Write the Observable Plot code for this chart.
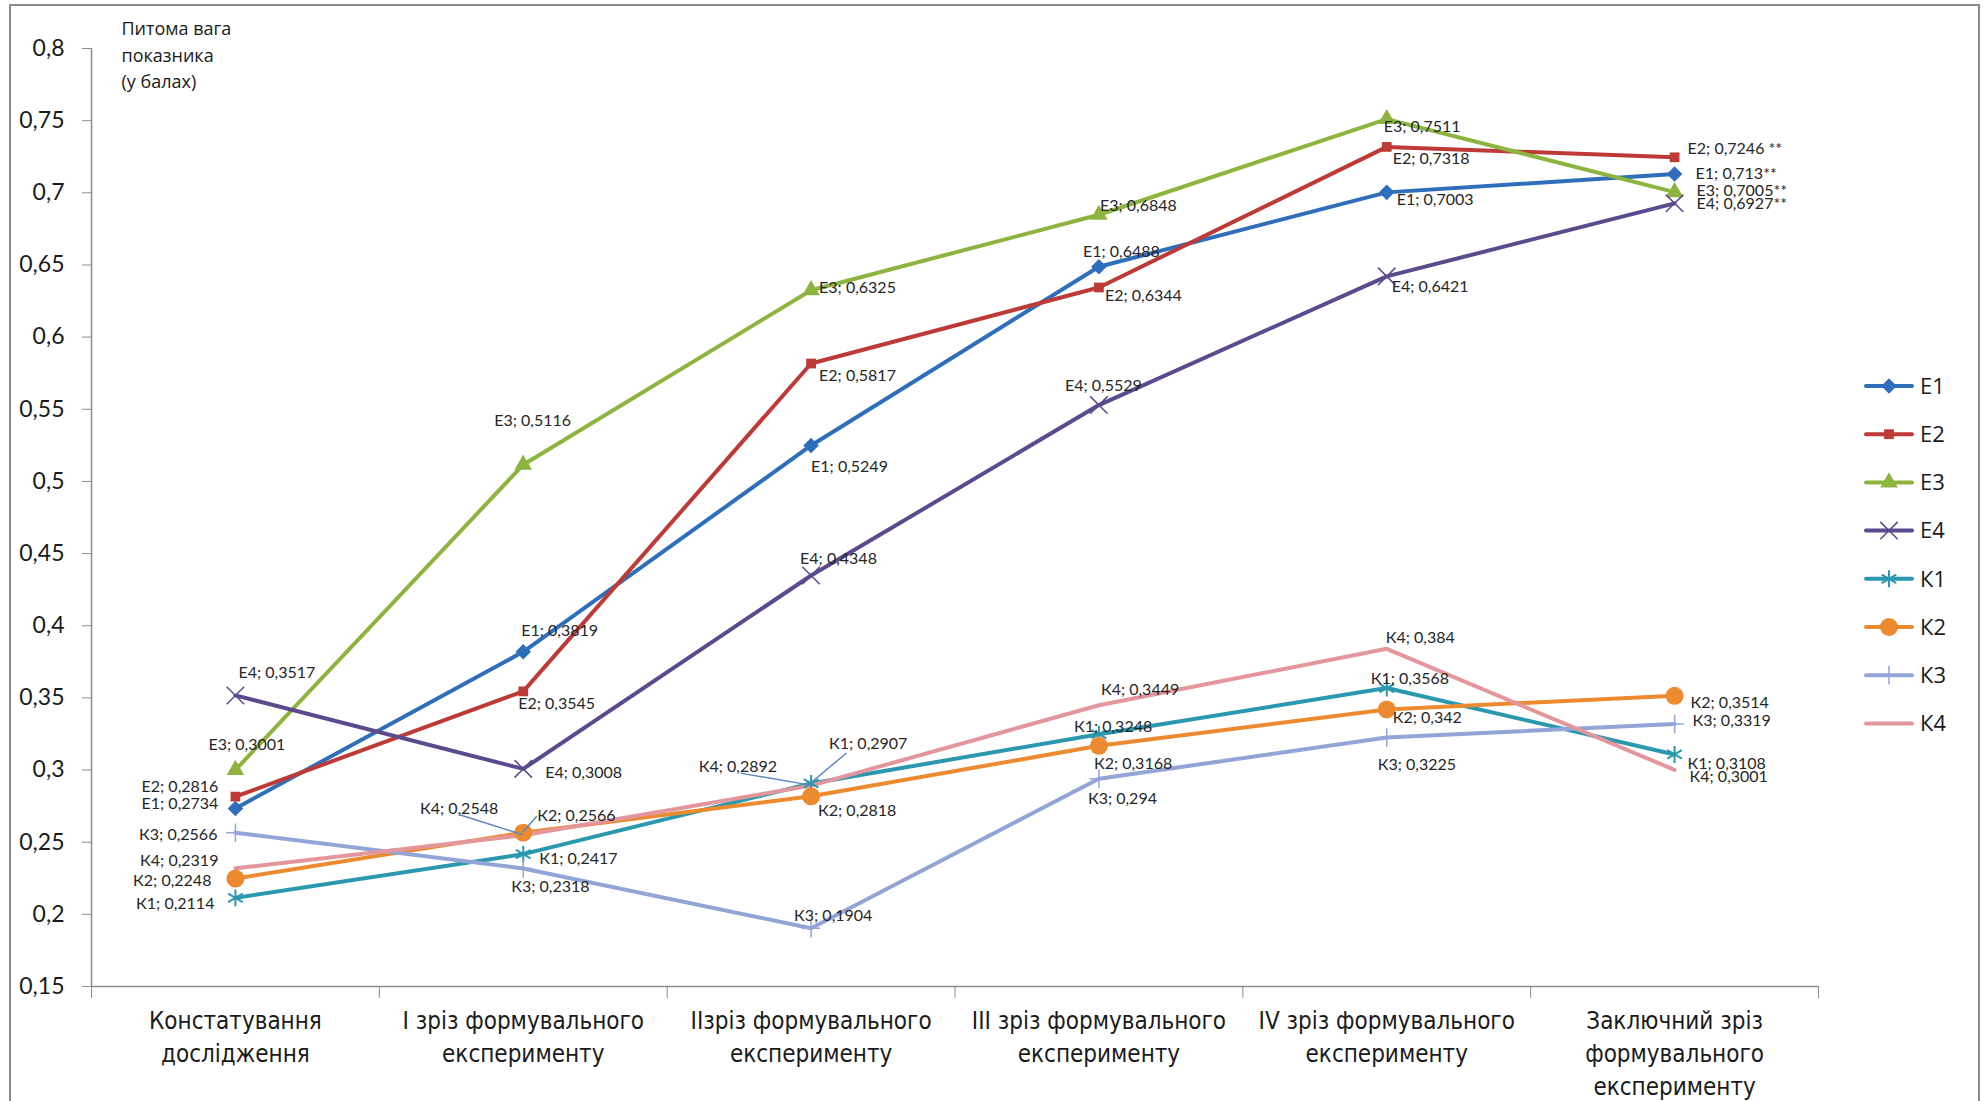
<!DOCTYPE html>
<html><head><meta charset="utf-8">
<script src="https://cdn.jsdelivr.net/npm/d3@7"></script>
<script src="https://cdn.jsdelivr.net/npm/@observablehq/plot@0.6"></script>
<style>
body{margin:0;background:#fff;}
#wrap{position:relative;width:1984px;height:1101px;overflow:hidden;background:#fff;}
#chart{position:absolute;left:0;top:0;}
#frame{position:absolute;left:9px;top:4px;width:1971px;height:1120px;border:2px solid #8a8a8a;box-sizing:border-box;pointer-events:none;}
#legend{position:absolute;left:1862px;top:362px;}
</style></head><body>
<div id="wrap"><div id="chart"></div><div id="legend"></div><div id="frame"></div></div>
<script>
// ---- data ----
const categories = [
  "Констатування\nдослідження",
  "І зріз формувального\nексперименту",
  "ІІзріз формувального\nексперименту",
  "ІІІ зріз формувального\nексперименту",
  "IV зріз формувального\nексперименту",
  "Заключний зріз\nформувального\nексперименту"
];
const seriesNames = ["Е1", "Е2", "Е3", "Е4", "К1", "К2", "К3", "К4"];
const E1 = [0.2734, 0.3819, 0.5249, 0.6488, 0.7003, 0.713];
const E2 = [0.2816, 0.3545, 0.5817, 0.6344, 0.7318, 0.7246];
const E3 = [0.3001, 0.5116, 0.6325, 0.6848, 0.7511, 0.7005];
const E4 = [0.3517, 0.3008, 0.4348, 0.5529, 0.6421, 0.6927];
const K1 = [0.2114, 0.2417, 0.2907, 0.3248, 0.3568, 0.3108];
const K2 = [0.2248, 0.2566, 0.2818, 0.3168, 0.342, 0.3514];
const K3 = [0.2566, 0.2318, 0.1904, 0.294, 0.3225, 0.3319];
const K4 = [0.2319, 0.2548, 0.2892, 0.3449, 0.384, 0.3001];
const lastSuffix = ["**", " **", "**", "**", "", "", "", ""];
const yTicks = [0.15, 0.2, 0.25, 0.3, 0.35, 0.4, 0.45, 0.5, 0.55, 0.6, 0.65, 0.7, 0.75, 0.8];
const yTitle = "Питома вага\nпоказника\n(у балах)";

// ---- styles ----
const colors = ["#2F6EBA", "#BE3A36", "#8DB43E", "#5B4A8D", "#2A98AE", "#EC8A30", "#93A5D6", "#E3969C"];
const markers = [
  {symbol: "diamond2", r: 7, filled: true},
  {symbol: "square", r: 5.5, filled: true},
  {symbol: "triangle", r: 6.5, filled: true},
  {symbol: "times", r: 8, filled: false, sw: 1.5},
  {symbol: "asterisk", r: 8, filled: false, sw: 2},
  {symbol: "circle", r: 9, filled: true},
  {symbol: "plus", r: 6, filled: false, sw: 1.5},
  null
];
// label layout per series per point: [anchor, dx, dy]
const labelLayout = [
  [["end",-17,-5],["start",-2,-21],["start",0,21],["start",-16,-15],["start",10,8],["start",21,0]],
  [["end",-17,-10],["start",-5,12],["start",8,12],["start",6,8],["start",6,12],["start",13,-8]],
  [["start",-27,-25],["start",-29,-44],["start",8,-2],["start",1,-9],["start",-3,8],["start",22,-1]],
  [["start",3,-23],["start",22,4],["start",-11,-17],["start",-34,-19],["start",5,11],["start",22,1]],
  [["end",-21,6],["start",16,5],["start",18,-40],["start",-25,-7],["start",-16,-9],["start",13,9]],
  [["end",-24,2],["start",14,-17],["start",7,15],["start",-5,18],["start",6,8],["start",16,7]],
  [["end",-18,2],["start",-12,18],["start",-17,-12],["start",-11,20],["start",-9,27],["start",18,-3]],
  [["end",-17,-7],["end",-25,-26],["end",-34,-19],["start",2,-15],["start",-1,-11],["start",15,7]]
];
// leader lines: [seriesIndex, pointIndex, dx, dy] (pixel end relative to point)
const leaders = [[7,1,-63,-20],[5,1,14,-16],[4,2,36,-30],[7,2,-70,-12]];

const allSeries = [E1, E2, E3, E4, K1, K2, K3, K4];
const rows = [];
allSeries.forEach((vals, s) => vals.forEach((v, i) => rows.push({series: seriesNames[s], s, i, value: v})));

const fmt = v => String(v).replace(".", ",");
const labelFont = "Lato, 'Open Sans', sans-serif";
const narrowFont = "'Liberation Sans Narrow', 'DejaVu Sans Condensed', 'Open Sans', sans-serif";

const marks = [];
marks.push(Plot.ruleX([-0.5], {stroke: "#8c8c8c", strokeWidth: 1.5}));
marks.push(Plot.ruleY([0.15], {stroke: "#8c8c8c", strokeWidth: 1.5}));
marks.push(Plot.axisY(yTicks, {
  label: null,
  tickSize: 9, tickPadding: 18, stroke: "#8c8c8c", fill: "#1a1a1a",
  tickFormat: d => d3.format(".2~f")(d).replace(".", ","),
  fontSize: 23, fontFamily: labelFont
}));
marks.push(Plot.axisX([-0.5, 0.5, 1.5, 2.5, 3.5, 4.5, 5.5], {
  label: null, tickSize: 12, stroke: "#8c8c8c", tickFormat: () => ""
}));
marks.push(Plot.axisX(d3.range(categories.length), {
  label: null, tickSize: 0, tickPadding: 19, fill: "#1a1a1a",
  tickFormat: i => categories[i], fontSize: 24, lineHeight: 1.37, fontFamily: narrowFont
}));
marks.push(Plot.text([yTitle], {
  frameAnchor: "top-left", dx: 30, dy: -32, textAnchor: "start", lineAnchor: "top",
  fontSize: 18, lineHeight: 1.47, fontFamily: "'Open Sans', sans-serif", fill: "#1a1a1a"
}));
marks.push(Plot.line(rows, {
  x: "i", y: "value", z: "series", stroke: "series", strokeWidth: 4,
  strokeLinejoin: "round", strokeLinecap: "round"
}));
seriesNames.forEach((name, s) => {
  const m = markers[s];
  if (!m) return;
  const data = rows.filter(d => d.s === s);
  marks.push(Plot.dot(data, {
    x: "i", y: "value", symbol: () => m.symbol, r: m.r,
    fill: m.filled ? colors[s] : "none",
    stroke: m.filled ? "none" : colors[s],
    strokeWidth: m.sw || 1
  }));
});
// leader lines drawn through the plot's scales
marks.push((index, scales) => {
  const g = d3.create("svg:g");
  leaders.forEach(([s, i, dx, dy]) => {
    const px = scales.x(i), py = scales.y(allSeries[s][i]);
    g.append("line").attr("x1", px).attr("y1", py).attr("x2", px + dx).attr("y2", py + dy)
      .attr("stroke", "#5B86C4").attr("stroke-width", 1.5);
  });
  return g.node();
});
rows.forEach(d => {
  const [anchor, dx, dy] = labelLayout[d.s][d.i];
  const text = `${d.series}; ${fmt(d.value)}` + (d.i === 5 ? lastSuffix[d.s] : "");
  marks.push(Plot.text([d], {
    x: "i", y: "value", text: () => text, dx, dy, textAnchor: anchor, lineAnchor: "middle",
    fontSize: 16, fontFamily: labelFont, fill: "#262626"
  }));
});

const chart = Plot.plot({
  width: 1984, height: 1101,
  marginLeft: 91, marginRight: 166, marginTop: 48, marginBottom: 115,
  x: {domain: [-0.5, 5.5], label: null},
  y: {domain: [0.15, 0.8], label: null},
  color: {domain: seriesNames, range: colors},
  style: {background: "transparent", fontFamily: "'Open Sans', sans-serif", color: "#1a1a1a", overflow: "visible"},
  marks
});
document.getElementById("chart").appendChild(chart);

// ---- legend ----
const leg = d3.select("#legend").append("svg").attr("width", 120).attr("height", 400);
const symMap = {diamond2: d3.symbolDiamond2, square: d3.symbolSquare, triangle: d3.symbolTriangle,
  times: d3.symbolTimes, asterisk: d3.symbolAsterisk, circle: d3.symbolCircle, plus: d3.symbolPlus};
seriesNames.forEach((name, s) => {
  const cy = 24 + s * 48.2;
  const g = leg.append("g").attr("transform", `translate(0,${cy})`);
  g.append("line").attr("x1", 4).attr("x2", 50).attr("y1", 0).attr("y2", 0)
    .attr("stroke", colors[s]).attr("stroke-width", 4).attr("stroke-linecap", "round");
  const m = markers[s];
  if (m) {
    g.append("path").attr("transform", "translate(27,0)")
      .attr("d", d3.symbol(symMap[m.symbol], Math.PI * m.r * m.r)())
      .attr("fill", m.filled ? colors[s] : "none")
      .attr("stroke", m.filled ? "none" : colors[s])
      .attr("stroke-width", m.sw || 1);
  }
  g.append("text").attr("x", 58).attr("y", 0).attr("dy", "0.35em")
    .attr("font-family", "'Open Sans', sans-serif").attr("font-size", 22).attr("fill", "#1a1a1a")
    .text(name);
});
</script>
</body></html>
